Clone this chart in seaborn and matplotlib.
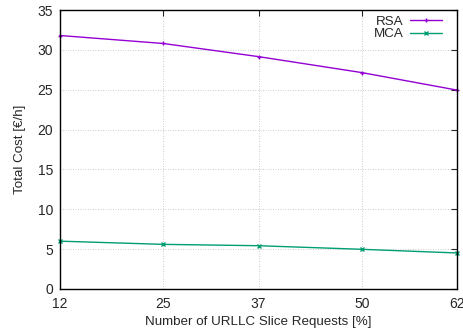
import matplotlib
matplotlib.use("Agg")
import matplotlib.pyplot as plt
import seaborn as sns
import pandas as pd

x_vals = [12, 25, 37, 50, 62]
rsa = [31.8, 30.8, 29.15, 27.15, 24.95]
mca = [6.0, 5.6, 5.43, 4.98, 4.52]
series_names = ["RSA", "MCA"]

sns.set_style("white")
plt.rcParams['font.family'] = ['Liberation Sans', 'DejaVu Sans']

df = pd.DataFrame({
    "x": x_vals * 2,
    "y": rsa + mca,
    "series": [series_names[0]] * len(x_vals) + [series_names[1]] * len(x_vals),
})

fig = plt.figure(figsize=(4.63, 3.32), dpi=100)
ax = fig.add_axes([60/463, 1 - 289/332, (457-60)/463, (289-10)/332])

colors = {"RSA": "#9400d3", "MCA": "#009e73"}
markers = {"RSA": "+", "MCA": "x"}
for name in series_names:
    sub = df[df.series == name]
    sns.lineplot(data=sub, x="x", y="y", ax=ax, color=colors[name], marker=markers[name],
                 markersize=3, markeredgewidth=1, markeredgecolor=colors[name],
                 linewidth=1, label=name, clip_on=False)

ax.set_xlim(12, 62)
ax.set_ylim(0, 35)
ax.set_xticks(x_vals)
ax.set_xticklabels([str(v) for v in x_vals])
ax.set_yticks(range(0, 36, 5))
ax.grid(True, color="#bbbbbb", linestyle=(0, (1, 2)), linewidth=0.6)
ax.tick_params(direction="in", length=4, width=0.8, labelsize=10, top=True, right=True, pad=5)
ax.tick_params(axis="x", pad=6)
for s in ax.spines.values():
    s.set_linewidth(1.0)
    s.set_color("black")
ax.set_xlabel("Number of URLLC Slice Requests [%]", fontsize=9.6, labelpad=3)
ax.set_ylabel("Total Cost [€/h]", fontsize=9.6, labelpad=8)

leg = ax.legend(loc="upper right", frameon=False, fontsize=9.6, markerfirst=False,
                handlelength=2.4, handletextpad=0.5, labelspacing=0.0,
                borderaxespad=0.0, borderpad=0.0,
                bbox_to_anchor=((442 - 60) / 397, 1 - 5.5 / 279))

fig.savefig("out.png", dpi=100)
